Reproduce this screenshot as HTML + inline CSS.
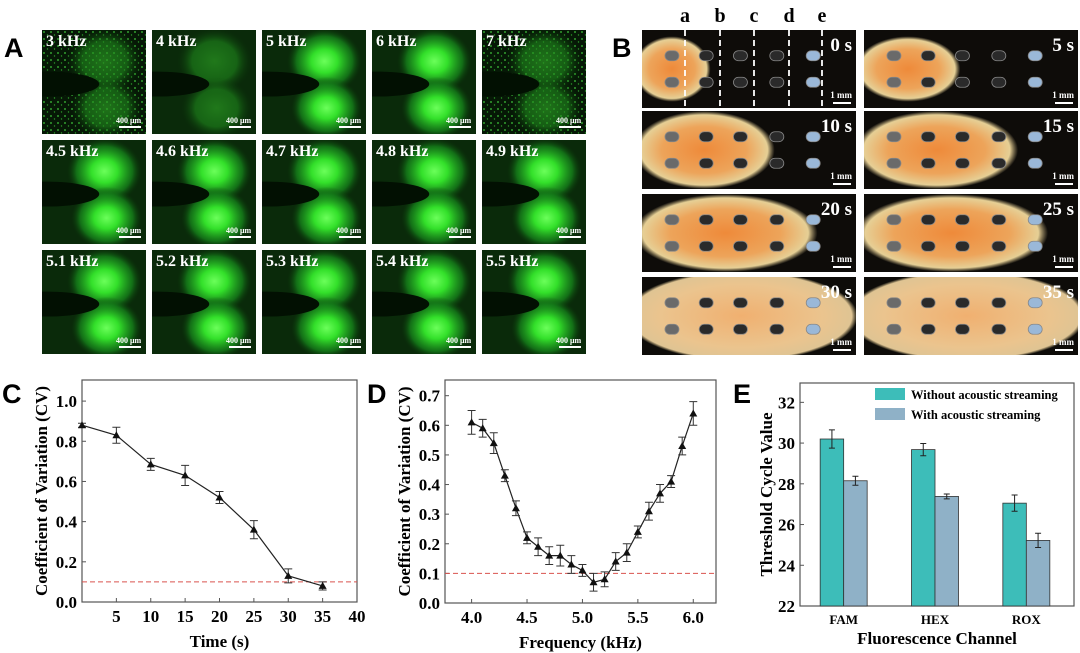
<!DOCTYPE html>
<html><head><meta charset="utf-8">
<style>
html,body{margin:0;padding:0;background:#fff;}
svg{display:block;font-family:"Liberation Serif",serif;}
svg svg{overflow:hidden;}
</style></head>
<body>
<svg id="fig" width="1080" height="653" viewBox="0 0 1080 653" xmlns="http://www.w3.org/2000/svg">
<defs>
  <radialGradient id="lobe" cx="50%" cy="50%" r="50%">
    <stop offset="0" stop-color="#6bff5a"/><stop offset="0.35" stop-color="#33e02a"/><stop offset="0.75" stop-color="#15801a" stop-opacity="0.8"/><stop offset="1" stop-color="#0a3a0a" stop-opacity="0"/>
  </radialGradient>
  <radialGradient id="lobeDim" cx="50%" cy="50%" r="50%">
    <stop offset="0" stop-color="#2a9a22" stop-opacity="0.7"/><stop offset="0.6" stop-color="#1f8a1c" stop-opacity="0.6"/><stop offset="1" stop-color="#0a3a0a" stop-opacity="0"/>
  </radialGradient>
  <pattern id="speck" width="7" height="7" patternUnits="userSpaceOnUse">
    <rect width="7" height="7" fill="#061806"/>
    <circle cx="2" cy="2" r="0.9" fill="#3ec83a"/><circle cx="5.5" cy="5" r="0.7" fill="#2a9a28"/>
  </pattern>
  <radialGradient id="blobO" cx="50%" cy="50%" r="50%">
    <stop offset="0" stop-color="#ee8a3a"/><stop offset="0.6" stop-color="#eda45a"/><stop offset="0.9" stop-color="#e6cf95"/><stop offset="1" stop-color="#c8b480" stop-opacity="0"/>
  </radialGradient>
  <radialGradient id="blobP" cx="50%" cy="50%" r="50%">
    <stop offset="0" stop-color="#f0b070"/><stop offset="0.7" stop-color="#ebc48e"/><stop offset="0.95" stop-color="#dfc493"/><stop offset="1" stop-color="#c8b480" stop-opacity="0"/>
  </radialGradient>
</defs>
<g id="panelA"></g>
<g id="panelB"></g>
<g id="chartC"></g>
<g id="chartD"></g>
<g id="chartE"></g>
</svg>
<script>
// ---- data ----
const freqLabelsA = ["3 kHz","4 kHz","5 kHz","6 kHz","7 kHz","4.5 kHz","4.6 kHz","4.7 kHz","4.8 kHz","4.9 kHz","5.1 kHz","5.2 kHz","5.3 kHz","5.4 kHz","5.5 kHz"];
const timeLabelsB = ["0 s","5 s","10 s","15 s","20 s","25 s","30 s","35 s"];
const blobExtentB = [0.32,0.45,0.62,0.72,0.82,0.86,0.97,1.0];

const cTimes = [0,5,10,15,20,25,30,35];
const cCV = [0.88,0.83,0.685,0.63,0.52,0.36,0.13,0.08];
const cErr = [0.01,0.04,0.03,0.05,0.03,0.045,0.035,0.02];
const cXTicks = [5,10,15,20,25,30,35,40];
const cYTicks = [0.0,0.2,0.4,0.6,0.8,1.0];

const dFreq = [4.0,4.1,4.2,4.3,4.4,4.5,4.6,4.7,4.8,4.9,5.0,5.1,5.2,5.3,5.4,5.5,5.6,5.7,5.8,5.9,6.0];
const dCV = [0.61,0.59,0.54,0.43,0.32,0.22,0.19,0.16,0.16,0.13,0.11,0.07,0.08,0.14,0.17,0.24,0.31,0.37,0.41,0.53,0.64];
const dErr = [0.04,0.03,0.035,0.02,0.025,0.02,0.03,0.03,0.035,0.03,0.02,0.03,0.025,0.03,0.03,0.02,0.03,0.03,0.02,0.03,0.04];
const dXTicks = [4.0,4.5,5.0,5.5,6.0];
const dYTicks = [0.0,0.1,0.2,0.3,0.4,0.5,0.6,0.7];

const eChannels = ["FAM","HEX","ROX"];
const eWithout = [30.2,29.68,27.05];
const eWithoutErr = [0.45,0.3,0.4];
const eWith = [28.15,27.38,25.22];
const eWithErr = [0.22,0.12,0.35];
const eYTicks = [22,24,26,28,30,32];

const NS="http://www.w3.org/2000/svg";
function mk(parent,tag,attrs,text){const e=document.createElementNS(NS,tag);for(const k in attrs)e.setAttribute(k,attrs[k]);if(text!==undefined)e.textContent=text;parent.appendChild(e);return e;}

// ---- Panel A ----
const pA=document.getElementById('panelA');
const lblA=mk(pA,'text',{x:4,y:57,'font-family':'Liberation Sans, sans-serif','font-weight':'bold','font-size':27},'A');


freqLabelsA.forEach((lab,i)=>{
  const col=i%5,row=Math.floor(i/5);
  const w=104,h=104;
  const g=mk(pA,'svg',{x:42+col*110,y:30+row*110,width:w,height:h});
  
  
  const sparse=(i===0||i===4);
  mk(g,'rect',{x:0,y:0,width:w,height:h,fill:sparse?'url(#speck)':'#0a2a0a'});
  const lf=(i===0||i===1||i===4)?'url(#lobeDim)':'url(#lobe)';
  mk(g,'ellipse',{cx:w*0.6,cy:h*0.3,rx:w*0.36,ry:h*0.32,fill:lf});
  mk(g,'ellipse',{cx:w*0.62,cy:h*0.75,rx:w*0.34,ry:h*0.3,fill:lf});
  mk(g,'ellipse',{cx:w*0.05,cy:h*0.52,rx:w*0.5,ry:h*0.12,fill:'#021002'});
  const t=mk(g,'text',{x:4,y:16,fill:'#fff','font-weight':'bold','font-size':16},lab);
  
  
  mk(g,'text',{x:w-30,y:h-11,fill:'#fff','font-weight':'bold','font-size':8},'400 μm');
  mk(g,'rect',{x:w-27,y:h-8,width:22,height:2,fill:'#fff'});
});

// ---- Panel B ----
const pB=document.getElementById('panelB');
const lblB=mk(pB,'text',{x:612,y:57,'font-family':'Liberation Sans, sans-serif','font-weight':'bold','font-size':27},'B');


const rowY=[30,111,194,277];
timeLabelsB.forEach((lab,i)=>{
  const col=i%2,row=Math.floor(i/2);
  const w=214,h=78;
  const g=mk(pB,'svg',{x:col?864:642,y:rowY[row],width:w,height:h});
  
  
  mk(g,'rect',{x:0,y:0,width:w,height:h,fill:'#0e0c09'});
  const ext=blobExtentB[i];
  const x0=-w*0.04,x1=w*ext;
  mk(g,'ellipse',{cx:(x0+x1)/2,cy:h/2,rx:(x1-x0)/2+(ext>0.95?8:0),ry:h*(i<2?0.42:(ext>0.95?0.58:0.5)),fill:i<6?'url(#blobO)':'url(#blobP)'});
  [0.14,0.3,0.46,0.63,0.8].forEach((f,k)=>{
    [0.33,0.67].forEach(fy=>{
      mk(g,'rect',{x:w*f-7,y:h*fy-5,width:14,height:10,rx:5,fill:k===4?'#9ab8d8':(k===0?'#6a6a6a':'#2a2a2a'),stroke:'#888','stroke-width':0.8});
    });
  });
  const t=mk(g,'text',{x:w-4,y:21,fill:'#fff','font-weight':'bold','font-size':19,'text-anchor':'end'},lab);
  
  
  mk(g,'text',{x:w-4,y:h-10,fill:'#fff','font-weight':'bold','font-size':9,'text-anchor':'end'},'1 mm');
  mk(g,'rect',{x:w-23,y:h-6,width:18,height:2,fill:'#fff'});
});
const letB=['a','b','c','d','e'],letX=[685,720,754,789,822];
letB.forEach((l,k)=>{
  const t=mk(pB,'text',{x:letX[k],y:22,'font-weight':'bold','font-size':20,'text-anchor':'middle'},l);
  
  
  mk(pB,'line',{x1:letX[k],y1:30,x2:letX[k],y2:108,stroke:'#fff','stroke-width':1.8,'stroke-dasharray':'6,4'});
});

// ---- line chart helper ----
function lineChart(gid,letter,box,xd,yd,xs,ys,err,xt,yt,xfmt,yfmt,xtitle,refY){
  const g=document.getElementById(gid);
  const X=v=>box.l+(v-xd[0])/(xd[1]-xd[0])*(box.r-box.l);
  const Y=v=>box.b-(v-yd[0])/(yd[1]-yd[0])*(box.b-box.t);
  const L=mk(g,'text',{x:box.l-80+(letter==='D'?2:0),y:403,'font-family':'Liberation Sans, sans-serif','font-weight':'bold','font-size':27},letter);
  
  
  mk(g,'rect',{x:box.l,y:box.t,width:box.r-box.l,height:box.b-box.t,fill:'none',stroke:'#555','stroke-width':1.2});
  yt.forEach(v=>{
    mk(g,'line',{x1:box.l,y1:Y(v),x2:box.l+4,y2:Y(v),stroke:'#555'});
    const t=mk(g,'text',{x:box.l-5,y:Y(v)+6,'font-weight':'bold','font-size':17,'text-anchor':'end'},yfmt(v));
    
    
  });
  xt.forEach(v=>{
    mk(g,'line',{x1:X(v),y1:box.b,x2:X(v),y2:box.b-4,stroke:'#555'});
    const t=mk(g,'text',{x:X(v),y:box.b+20,'font-weight':'bold','font-size':17,'text-anchor':'middle'},xfmt(v));
    
    
  });
  const yt2=mk(g,'text',{x:0,y:0,'font-weight':'bold','font-size':17,'text-anchor':'middle',transform:`translate(${box.l-35},${(box.t+box.b)/2}) rotate(-90)`},'Coefficient of Variation (CV)');
  
  
  const xt2=mk(g,'text',{x:(box.l+box.r)/2,y:box.b+45,'font-weight':'bold','font-size':17,'text-anchor':'middle'},xtitle);
  
  
  const rl=mk(g,'line',{x1:box.l,y1:Y(refY),x2:box.r,y2:Y(refY),stroke:'#d9534f','stroke-width':1,'stroke-dasharray':'5,3'});
  
  
  const pl=mk(g,'polyline',{points:xs.map((v,i)=>X(v)+','+Y(ys[i])).join(' '),fill:'none',stroke:'#222','stroke-width':1.2});
  
  
  xs.forEach((v,i)=>{
    const cx=X(v),cy=Y(ys[i]),e1=Y(ys[i]+err[i]),e2=Y(ys[i]-err[i]);
    const eb=mk(g,'path',{d:`M${cx},${e1}V${e2}M${cx-4},${e1}H${cx+4}M${cx-4},${e2}H${cx+4}`,stroke:'#333','stroke-width':1,fill:'none'});
    
    
    const m=mk(g,'path',{d:`M${cx},${cy-4}L${cx+4},${cy+3}L${cx-4},${cy+3}Z`,fill:'#111'});
    
    
  });
}
lineChart('chartC','C',{l:82,r:357,t:380,b:602},[0,40],[0,1.105],cTimes,cCV,cErr,cXTicks,cYTicks,v=>String(v),v=>v.toFixed(1),'Time (s)',0.1);
lineChart('chartD','D',{l:445,r:716,t:380,b:603},[3.76,6.205],[0,0.753],dFreq,dCV,dErr,dXTicks,dYTicks,v=>v.toFixed(1),v=>v.toFixed(1),'Frequency (kHz)',0.1);

// ---- bar chart E ----
(function(){
  const g=document.getElementById('chartE');
  const box={l:800,r:1074,t:383,b:606};
  const yd=[22,32.95];
  const Y=v=>box.b-(v-yd[0])/(yd[1]-yd[0])*(box.b-box.t);
  const cx=i=>box.l+(i+0.5)*(box.r-box.l)/eChannels.length-2;
  const bw=23.5;
  const L=mk(g,'text',{x:733,y:403,'font-family':'Liberation Sans, sans-serif','font-weight':'bold','font-size':27},'E');
  
  
  mk(g,'rect',{x:box.l,y:box.t,width:box.r-box.l,height:box.b-box.t,fill:'none',stroke:'#555','stroke-width':1.2});
  eYTicks.forEach(v=>{
    mk(g,'line',{x1:box.l,y1:Y(v),x2:box.l+4,y2:Y(v),stroke:'#555'});
    const t=mk(g,'text',{x:box.l-5,y:Y(v)+6,'font-weight':'bold','font-size':17,'text-anchor':'end'},String(v));
    
    
  });
  function bar(x,v,e,c,name){
    const r=mk(g,'rect',{x:x,y:Y(v),width:bw,height:box.b-Y(v),fill:c,stroke:'#333','stroke-width':0.8});
    
    
    const m=x+bw/2,a=Y(v+e),b=Y(v-e);
    const eb=mk(g,'path',{d:`M${m},${a}V${b}M${m-3},${a}H${m+3}M${m-3},${b}H${m+3}`,stroke:'#222','stroke-width':1,fill:'none'});
    
    
  }
  eChannels.forEach((ch,i)=>{
    bar(cx(i)-bw,eWithout[i],eWithoutErr[i],'#3dbdb9','bar-'+ch.toLowerCase()+'-without');
    bar(cx(i),eWith[i],eWithErr[i],'#8fb1c7','bar-'+ch.toLowerCase()+'-with');
    const t=mk(g,'text',{x:cx(i),y:box.b+18,'font-weight':'bold','font-size':13,'text-anchor':'middle'},ch);
    
    
  });
  const yt=mk(g,'text',{x:0,y:0,'font-weight':'bold','font-size':17,'text-anchor':'middle',transform:`translate(${box.l-28},${(box.t+box.b)/2}) rotate(-90)`},'Threshold Cycle Value');
  
  
  const xt=mk(g,'text',{x:(box.l+box.r)/2,y:box.b+38,'font-weight':'bold','font-size':17,'text-anchor':'middle'},'Fluorescence Channel');
  
  
  const lg=mk(g,'g',{});
  
  
  const le1=mk(lg,'rect',{x:875,y:388,width:30,height:12,fill:'#3dbdb9'});
  
  
  mk(lg,'text',{x:911,y:399,'font-weight':'bold','font-size':12.5},'Without acoustic streaming');
  const le2=mk(lg,'rect',{x:875,y:408,width:30,height:12,fill:'#8fb1c7'});
  
  
  mk(lg,'text',{x:911,y:419,'font-weight':'bold','font-size':12.5},'With acoustic streaming');
})();
</script>
</body></html>
